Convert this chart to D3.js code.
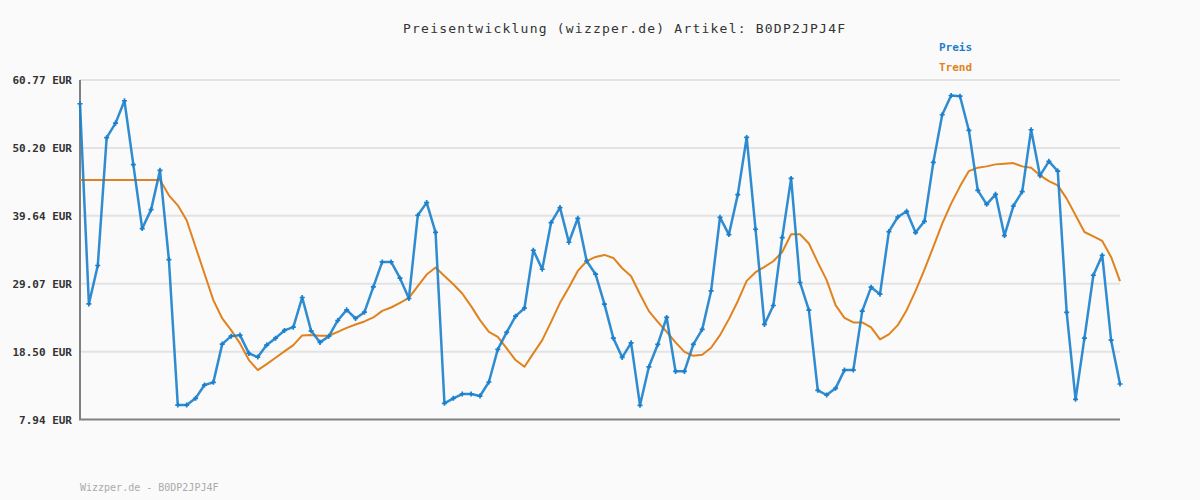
<!DOCTYPE html>
<html>
<head>
<meta charset="utf-8">
<script src="https://cdn.jsdelivr.net/npm/d3@7"></script>
<style>
  html, body { margin: 0; padding: 0; background: #fafafa; }
  svg { display: block; }
  text { font-family: "DejaVu Sans Mono", "Liberation Mono", monospace; }
</style>
</head>
<body>
<svg id="chart" width="1200" height="500"></svg>
<script>
const titleText = "Preisentwicklung (wizzper.de) Artikel: B0DP2JPJ4F";
const footerText = "Wizzper.de - B0DP2JPJ4F";
const seriesNames = ["Preis", "Trend"];
const tickValues = [7.94, 18.50, 29.07, 39.64, 50.20, 60.77];
const tickLabels = ["7.94 EUR", "18.50 EUR", "29.07 EUR", "39.64 EUR", "50.20 EUR", "60.77 EUR"];

const price = [57.07, 25.93, 31.90, 51.79, 54.06, 57.54, 47.59, 37.65, 40.60, 46.71,
  32.83, 10.19, 10.19, 11.23, 13.30, 13.72, 19.67, 20.91, 21.07, 18.23,
  17.65, 19.52, 20.60, 21.80, 22.31, 26.93, 21.74, 19.94, 20.91, 23.35,
  25.00, 23.66, 24.64, 28.57, 32.46, 32.46, 29.93, 26.77, 39.72, 41.69, 37.07,
  10.46, 11.23, 11.90, 11.90, 11.59, 13.77, 18.85, 21.49, 24.02, 25.26,
  34.28, 31.32, 38.58, 40.91, 35.52, 39.25, 32.61, 30.55, 25.89, 20.60,
  17.60, 19.87, 10.15, 16.14, 19.62, 23.82, 15.43, 15.43, 19.62, 21.96,
  27.95, 39.40, 36.72, 42.93, 51.83, 37.54, 22.73, 25.68, 36.25, 45.46,
  29.26, 24.95, 12.48,
  11.75, 12.79, 15.63, 15.63, 24.80, 28.53, 27.44, 37.18, 39.45, 40.34,
  37.03, 38.78, 47.95, 55.36, 58.36, 58.25, 52.92, 43.60, 41.42, 42.98,
  36.56, 41.16, 43.40, 53.03, 45.88, 48.11, 46.60, 24.60, 11.08, 20.60,
  30.39, 33.50, 20.29, 13.46];

const trend = [45.20, 45.20, 45.20, 45.20, 45.20, 45.20, 45.20, 45.20, 45.20, 45.20,
  42.82, 41.27, 38.94, 34.79, 30.66, 26.51, 23.66, 21.85, 19.78, 17.19,
  15.63, 16.56, 17.54, 18.54, 19.52, 21.02, 21.07, 20.97, 20.97, 21.58,
  22.20, 22.73, 23.20, 23.82, 24.84, 25.37, 26.09, 26.87, 28.68, 30.50, 31.59,
  30.28, 28.99, 27.55, 25.58, 23.40, 21.58, 20.81, 19.00, 17.19, 16.14,
  18.23, 20.29, 23.14, 26.09, 28.48, 31.06, 32.57, 33.24, 33.55, 33.08,
  31.48, 30.24, 27.44, 24.80, 23.14, 21.58, 19.94, 18.47, 17.85, 18.01,
  19.10, 21.07, 23.56, 26.35, 29.51, 30.86, 31.68, 32.57, 34.01, 36.76,
  36.76, 35.32, 32.40,
  29.62, 25.73, 23.76, 23.04, 23.04, 22.27, 20.40, 21.18, 22.62, 24.95,
  27.95, 31.28, 34.79, 38.43, 41.53, 44.22, 46.60, 47.13, 47.33, 47.64,
  47.75, 47.84, 47.33, 47.13, 45.93, 45.04, 44.38, 42.31, 39.72, 37.12,
  36.45, 35.72, 33.24, 29.46];

const colors = { price: "#1a7fcc", trend: "#e0821e" };

const svg = d3.select("#chart");
const plotLeft = 80, plotRight = 1120, plotTop = 80, plotBottom = 419.5;

svg.append("rect").attr("width", 1200).attr("height", 500).attr("fill", "#fafafa");

const x = d3.scaleLinear().domain([0, price.length - 1]).range([plotLeft, plotRight]);
const y = d3.scaleLinear().domain([tickValues[0], tickValues[tickValues.length - 1]]).range([plotBottom, plotTop]);

// grid lines
svg.append("g").selectAll("line").data(tickValues.slice(1)).join("line")
  .attr("x1", plotLeft).attr("x2", plotRight)
  .attr("y1", d => y(d)).attr("y2", d => y(d))
  .attr("stroke", "#e3e3e3").attr("stroke-width", 2);

// y axis (labels)
const yAxis = d3.axisLeft(y).tickValues(tickValues)
  .tickFormat((d, i) => tickLabels[i]).tickSize(0).tickPadding(8);
const gy = svg.append("g").attr("transform", `translate(${plotLeft},0)`).call(yAxis);
gy.select(".domain").remove();
gy.selectAll("text")
  .attr("font-family", "'DejaVu Sans Mono', monospace")
  .attr("font-size", 11).attr("font-weight", "bold").attr("fill", "#333");

// axis lines
svg.append("line").attr("x1", plotLeft).attr("x2", plotLeft).attr("y1", plotTop).attr("y2", plotBottom)
  .attr("stroke", "#808080").attr("stroke-width", 2);
svg.append("line").attr("x1", plotLeft - 1).attr("x2", plotRight).attr("y1", plotBottom).attr("y2", plotBottom)
  .attr("stroke", "#808080").attr("stroke-width", 2);

// trend line
const line = d3.line().x((d, i) => x(i)).y(d => y(d));
svg.append("path").datum(trend).attr("d", line)
  .attr("fill", "none").attr("stroke", colors.trend).attr("stroke-width", 2)
  .attr("stroke-linejoin", "round");

// price line
svg.append("path").datum(price).attr("d", line)
  .attr("fill", "none").attr("stroke", colors.price).attr("stroke-width", 2.5)
  .attr("stroke-linejoin", "round").attr("opacity", 0.9);

// markers
const sym = d3.symbol().type(d3.symbolCross).size(14);
svg.append("g").selectAll("path").data(price).join("path")
  .attr("d", sym)
  .attr("transform", (d, i) => `translate(${x(i)},${y(d)})`)
  .attr("fill", colors.price);

// title
svg.append("text").attr("x", 624).attr("y", 33).attr("text-anchor", "middle")
  .attr("font-size", 13).attr("fill", "#333")
  .attr("textLength", 442).attr("lengthAdjust", "spacing")
  .text(titleText);

// legend
const legend = svg.append("g");
legend.selectAll("text").data(seriesNames).join("text")
  .attr("x", 939).attr("y", (d, i) => 51 + i * 20)
  .attr("font-size", 11).attr("font-weight", "bold")
  .attr("fill", (d, i) => i === 0 ? colors.price : colors.trend)
  .text(d => d);

// footer
svg.append("text").attr("x", 80).attr("y", 491)
  .attr("font-size", 10).attr("fill", "#aaaaaa")
  .text(footerText);
</script>
</body>
</html>
